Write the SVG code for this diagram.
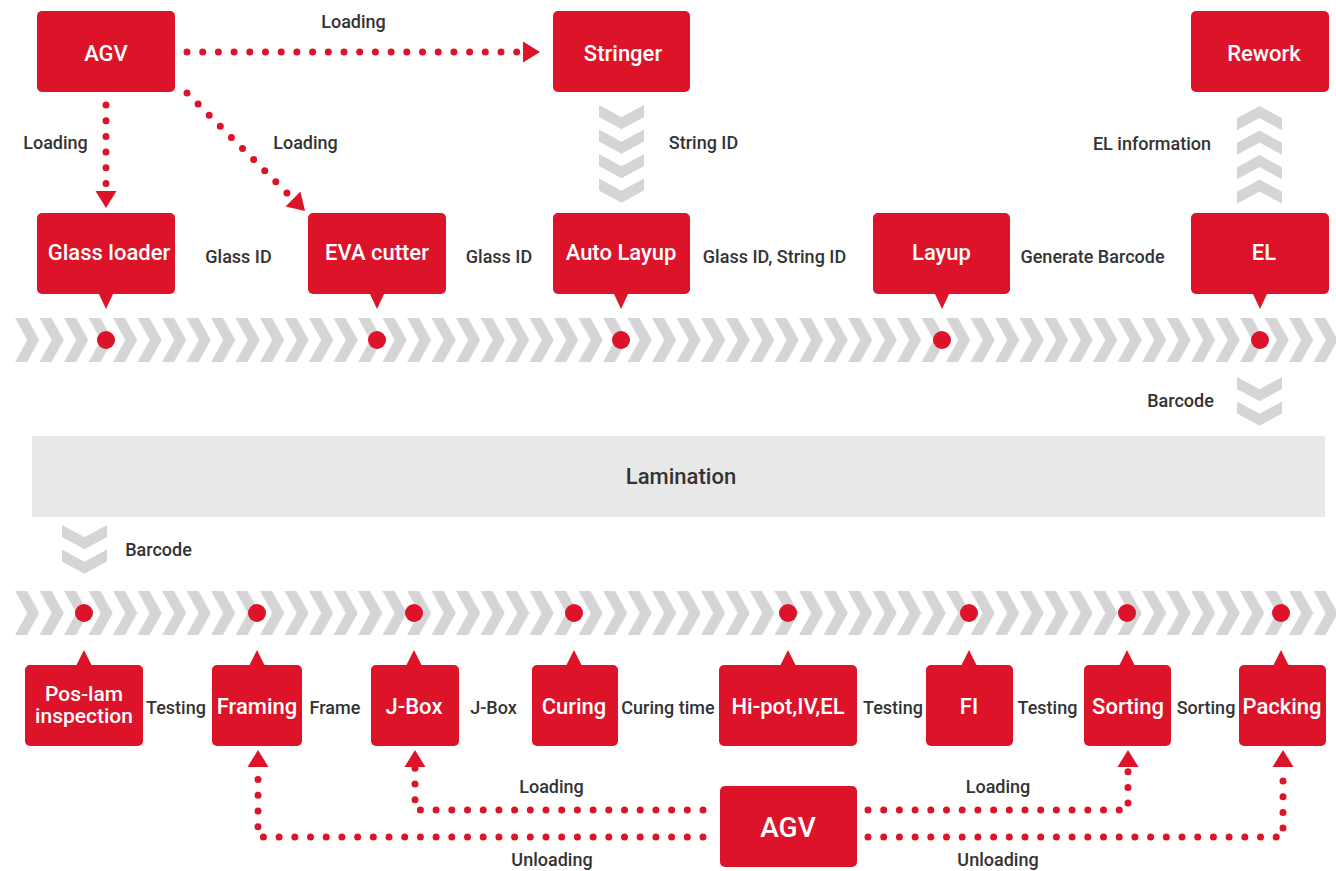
<svg xmlns="http://www.w3.org/2000/svg" width="1336" height="871" viewBox="0 0 1336 871">
<style>
.box{fill:#dc1329}
.nt{font-family:Roboto,"Liberation Sans",sans-serif;font-weight:500;fill:#fff;text-anchor:middle;font-size:22px}
.nb{font-size:22px}
.lb{font-family:Roboto,"Liberation Sans",sans-serif;font-weight:500;fill:#333;text-anchor:middle;font-size:18px}
.dot{fill:none;stroke:#dc1329;stroke-width:7;stroke-linecap:round;stroke-dasharray:0 15.7}
.chev{fill:#d5d5d5}
.pin{fill:#dc1329}
</style>
<defs>
<pattern id="band" patternUnits="userSpaceOnUse" width="24.5" height="44"><polygon points="0,0 12,0 24.3,22 12,44 0,44 12.3,22" fill="#d5d5d5"/></pattern>
<polygon id="vdown" points="0,0 22.5,12.3 45,0 45,12 22.5,24.3 0,12"/>
<polygon id="vup" points="22.5,0 45,12.3 45,24.3 22.5,12 0,24.3 0,12.3"/>
<marker id="ah" markerUnits="userSpaceOnUse" markerWidth="17" markerHeight="21" refX="0" refY="10.5" orient="auto" overflow="visible"><path d="M0,0 L17,10.5 L0,21 z" fill="#dc1329"/></marker>
</defs>
<rect width="1336" height="871" fill="#fff"/>

<g id="track-top">
<g transform="translate(15,318)"><rect width="1321" height="44" fill="url(#band)"/></g>
<circle class="pin" cx="106" cy="340" r="9"/>
<circle class="pin" cx="377" cy="340" r="9"/>
<circle class="pin" cx="621" cy="340" r="9"/>
<circle class="pin" cx="942" cy="340" r="9"/>
<circle class="pin" cx="1260" cy="340" r="9"/>
</g>

<g id="track-bottom">
<g transform="translate(15,591)"><rect width="1321" height="44" fill="url(#band)"/></g>
<circle class="pin" cx="84" cy="613" r="9"/>
<circle class="pin" cx="257" cy="613" r="9"/>
<circle class="pin" cx="414" cy="613" r="9"/>
<circle class="pin" cx="574" cy="613" r="9"/>
<circle class="pin" cx="788" cy="613" r="9"/>
<circle class="pin" cx="969" cy="613" r="9"/>
<circle class="pin" cx="1127" cy="613" r="9"/>
<circle class="pin" cx="1281" cy="613" r="9"/>
</g>

<g id="flow-chevrons" class="chev">
<use href="#vdown" x="599" y="105"/>
<use href="#vdown" x="599" y="129.5"/>
<use href="#vdown" x="599" y="154"/>
<use href="#vdown" x="599" y="178.5"/>
<use href="#vup" x="1237" y="106"/>
<use href="#vup" x="1237" y="130.5"/>
<use href="#vup" x="1237" y="155"/>
<use href="#vup" x="1237" y="179.5"/>
<use href="#vdown" x="1237" y="377"/>
<use href="#vdown" x="1237" y="401.5"/>
<use href="#vdown" x="62" y="525"/>
<use href="#vdown" x="62" y="549.5"/>
</g>

<g id="lamination">
<rect x="32" y="436" width="1293" height="81" fill="#e8e8e8"/>
<text class="lb" x="681" y="484" style="font-size:22px">Lamination</text>
</g>

<g id="connectors">
<path class="dot" d="M187,52 H523" marker-end="url(#ah)"/>
<path class="dot" d="M106,105 V191" marker-end="url(#ah)"/>
<path class="dot" d="M187,93 L293,199" marker-end="url(#ah)"/>
<path class="dot" d="M703,837 H258 V767" marker-end="url(#ah)"/>
<path class="dot" d="M703,810 H415 V767" marker-end="url(#ah)"/>
<path class="dot" d="M868,810 H1128 V767" marker-end="url(#ah)"/>
<path class="dot" d="M868,837 H1283 V767" marker-end="url(#ah)"/>
</g>

<g id="labels">
<text class="lb" x="353.5" y="28">Loading</text>
<text class="lb" x="55.5" y="149">Loading</text>
<text class="lb" x="305.5" y="149">Loading</text>
<text class="lb" x="703.5" y="149">String ID</text>
<text class="lb" x="1152" y="150">EL information</text>
<text class="lb" x="238.5" y="263">Glass ID</text>
<text class="lb" x="499" y="263">Glass ID</text>
<text class="lb" x="774.5" y="263">Glass ID, String ID</text>
<text class="lb" x="1092.5" y="263">Generate Barcode</text>
<text class="lb" x="1180.5" y="407">Barcode</text>
<text class="lb" x="158.5" y="556">Barcode</text>
<text class="lb" x="176" y="714">Testing</text>
<text class="lb" x="335" y="714">Frame</text>
<text class="lb" x="493.5" y="714">J-Box</text>
<text class="lb" x="668" y="714">Curing time</text>
<text class="lb" x="893" y="714">Testing</text>
<text class="lb" x="1047.5" y="714">Testing</text>
<text class="lb" x="1206" y="714">Sorting</text>
<text class="lb" x="551.5" y="793">Loading</text>
<text class="lb" x="552" y="866">Unloading</text>
<text class="lb" x="998" y="793">Loading</text>
<text class="lb" x="998" y="866">Unloading</text>
</g>

<g id="node-agv-top"><rect class="box" x="37" y="11" width="138" height="81" rx="5"/><text class="nt" x="106" y="60.5">AGV</text></g>
<g id="node-stringer"><rect class="box" x="553" y="11" width="137" height="81" rx="5"/><text class="nt" x="623" y="60.5">Stringer</text></g>
<g id="node-rework"><rect class="box" x="1191" y="11" width="138" height="81" rx="5"/><text class="nt" x="1264" y="60.5">Rework</text></g>

<g id="node-glass-loader"><rect class="box" x="37" y="213" width="138" height="81" rx="5"/><polygon class="box" points="98.5,293 113.5,293 106,309"/><text class="nt" x="109" y="260">Glass loader</text></g>
<g id="node-eva-cutter"><rect class="box" x="308" y="213" width="138" height="81" rx="5"/><polygon class="box" points="369.5,293 384.5,293 377,309"/><text class="nt" x="377" y="260">EVA cutter</text></g>
<g id="node-auto-layup"><rect class="box" x="553" y="213" width="137" height="81" rx="5"/><polygon class="box" points="613.5,293 628.5,293 621,309"/><text class="nt" x="621" y="260">Auto Layup</text></g>
<g id="node-layup"><rect class="box" x="873" y="213" width="137" height="81" rx="5"/><polygon class="box" points="934.5,293 949.5,293 942,309"/><text class="nt" x="941.5" y="260">Layup</text></g>
<g id="node-el"><rect class="box" x="1191" y="213" width="138" height="81" rx="5"/><polygon class="box" points="1252.5,293 1267.5,293 1260,309"/><text class="nt" x="1264" y="260">EL</text></g>

<g id="node-poslam"><rect class="box" x="25" y="665" width="118" height="81" rx="5"/><polygon class="box" points="76,666 92,666 84,650"/><text class="nt" x="84" y="701" style="font-size:21px">Pos-lam</text><text class="nt" x="84" y="723" style="font-size:21px">inspection</text></g>
<g id="node-framing"><rect class="box" x="212" y="665" width="90" height="81" rx="5"/><polygon class="box" points="249,666 265,666 257,650"/><text class="nt nb" x="257" y="714">Framing</text></g>
<g id="node-jbox"><rect class="box" x="371" y="665" width="88" height="81" rx="5"/><polygon class="box" points="406,666 422,666 414,650"/><text class="nt nb" x="414" y="714">J-Box</text></g>
<g id="node-curing"><rect class="box" x="532" y="665" width="86" height="81" rx="5"/><polygon class="box" points="566,666 582,666 574,650"/><text class="nt nb" x="574" y="714">Curing</text></g>
<g id="node-hipot"><rect class="box" x="719" y="665" width="138" height="81" rx="5"/><polygon class="box" points="780,666 796,666 788,650"/><text class="nt nb" x="788" y="714">Hi-pot,IV,EL</text></g>
<g id="node-fi"><rect class="box" x="926" y="665" width="87" height="81" rx="5"/><polygon class="box" points="961,666 977,666 969,650"/><text class="nt nb" x="969" y="714">FI</text></g>
<g id="node-sorting"><rect class="box" x="1084" y="665" width="87" height="81" rx="5"/><polygon class="box" points="1119,666 1135,666 1127,650"/><text class="nt nb" x="1128" y="714">Sorting</text></g>
<g id="node-packing"><rect class="box" x="1239" y="665" width="87" height="81" rx="5"/><polygon class="box" points="1273,666 1289,666 1281,650"/><text class="nt nb" x="1282" y="714">Packing</text></g>

<g id="node-agv-bottom"><rect class="box" x="720" y="786" width="137" height="81" rx="5"/><text class="nt" x="788" y="837" style="font-size:28px">AGV</text></g>
</svg>
